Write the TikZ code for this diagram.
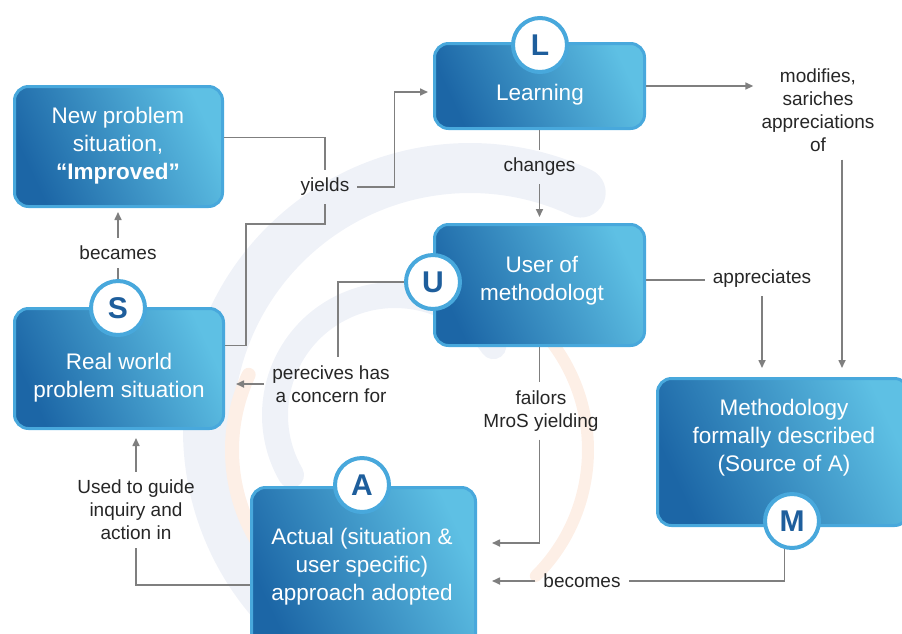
\documentclass[tikz,border=0pt]{standalone}
\usepackage{fontspec}
\setmainfont{Liberation Sans}
\usetikzlibrary{arrows.meta}
\definecolor{boxdark}{HTML}{1C66A6}
\definecolor{boxlight}{HTML}{5EC0E4}
\definecolor{boxrim}{HTML}{48A8DC}
\definecolor{badgeletter}{HTML}{1E5E9C}
\definecolor{linegray}{HTML}{7F7F7F}
\definecolor{labeltext}{HTML}{262626}
\definecolor{markblue}{HTML}{EFF2F8}
\definecolor{markorange}{HTML}{FDEFE6}

\begin{document}
\begin{tikzpicture}[x=1pt,y=-1pt,
  box/.style={draw=boxrim, line width=3pt, rounded corners=14pt,
    left color=boxdark, right color=boxlight, shading angle=115},
  boxtext/.style={text=white, align=center, font=\fontsize{22.5}{28}\selectfont},
  badge/.style={circle, draw=boxrim, line width=4pt, fill=white, minimum size=54pt,
    inner sep=0pt, text=badgeletter, font=\fontsize{30}{30}\selectfont\bfseries},
  lbl/.style={text=labeltext, align=center, inner xsep=8pt, inner ysep=8pt,
    font=\fontsize{19}{23}\selectfont},
  ln/.style={draw=linegray, line width=1.6pt},
  arr/.style={ln, -{Triangle[length=8pt,width=7pt]}}]
\useasboundingbox (0,0) rectangle (902,633);

% faint logo in the back
\draw[markblue, line width=50pt, line cap=round] (470,430) ++(140:262) arc[start angle=140, end angle=295, radius=262];
\draw[markblue, line width=26pt, line cap=round] (395,415) ++(150:120) arc[start angle=150, end angle=325, radius=120];
\draw[markorange, line width=14pt, line cap=round] (410,450) ++(100:178) arc[start angle=100, end angle=205, radius=178];
\draw[markorange, line width=12pt, line cap=round] (410,450) ++(-40:178) arc[start angle=-40, end angle=45, radius=178];

% boxes
\node[box, minimum width=208pt, minimum height=120pt] (nps) at (118.5,146.5) {};
\node[box, minimum width=210pt, minimum height=85pt] (lrn) at (539.5,86) {};
\node[box, minimum width=210pt, minimum height=121pt] (usr) at (539.5,285) {};
\node[box, minimum width=209pt, minimum height=120pt] (rwp) at (119,368.5) {};
\node[box, minimum width=251pt, minimum height=147pt] (mth) at (783,452) {};
\node[box, minimum width=224pt, minimum height=161pt] (act) at (363.5,568) {};

\node[boxtext] (nps-t) at (118,146) {New problem\\situation,\\\textbf{“Improved”}};
\node[boxtext] (lrn-t) at (540,95) {Learning};
\node[boxtext] (usr-t) at (542,281) {User of\\methodologt};
\node[boxtext] (rwp-t) at (119,378) {Real world\\problem situation};
\node[boxtext] (mth-t) at (784,438) {Methodology\\formally described\\(Source of A)};
\node[boxtext] (act-t) at (362,567) {Actual (situation \&\\user specific)\\approach adopted};

% badges
\node[badge] (cL) at (540,45) {L};
\node[badge] (cU) at (433,282) {U};
\node[badge] (cS) at (118,308) {S};
\node[badge] (cA) at (362,485) {A};
\node[badge] (cM) at (792,521) {M};

% labels
\node[lbl] (yld) at (325,187) {yields};
\node[lbl] (bcm) at (118,253) {becames};
\node[lbl] (chg) at (539.5,167) {changes};
\node[lbl] (mod) at (818,110) {modifies,\\sariches\\appreciations\\of};
\node[lbl] (apr) at (762,279) {appreciates};
\node[lbl] (pcv) at (331,384) {perecives has\\a concern for};
\node[lbl] (fml) at (541,411) {failors\\MroS yielding};
\node[lbl] (bcs) at (582,581) {becomes};
\node[lbl] (usd) at (136,510) {Used to guide\\inquiry and\\action in};

% connectors
\draw[ln] ([yshift=9pt]nps.east) -| (yld.north);
\draw[arr, shorten >=5pt] (yld.east) -- ++(37,0) |- ([yshift=-6pt]lrn.west);
\draw[ln] ([yshift=23pt]rwp.east) -- ++(21,0) |- ([yshift=-20pt]yld.south) -- (yld.south);
\draw[ln] (cS.north) -- (bcm.south);
\draw[arr, shorten >=4pt] (bcm.north) -- (bcm.north |- nps.south);
\draw[ln] (lrn.south) -- (chg.north);
\draw[arr, shorten >=6pt] (chg.south) -- (usr.north);
\draw[arr] (lrn.east) -- (lrn.east -| mod.west);
\coordinate (modout) at ([xshift=24pt]mod.south);
\draw[arr, shorten >=9pt] (modout) -- (modout |- mth.north);
\coordinate (usrout) at ([yshift=5pt]usr.east);
\draw[ln] (usrout) -- (usrout -| apr.west);
\draw[arr, shorten >=9pt] (apr.south) -- (apr.south |- mth.north);
\draw[ln] (cU.west) -| ([xshift=7pt]pcv.north);
\draw[arr, shorten >=11pt] (pcv.west) -- (pcv.west -| rwp.east);
\draw[ln] (usr.south) -- (usr.south |- fml.north);
\draw[arr, shorten >=15pt] (fml.south -| usr.south) |- ([yshift=25pt]act.east);
\draw[ln] (cM.-105) |- (bcs.east);
\draw[arr, shorten >=15pt] (bcs.west) -- (bcs.west -| act.east);
\draw[ln] ([yshift=-17pt]act.west) -| (usd.south);
\draw[arr, shorten >=8pt] (usd.north) -- (usd.north |- rwp.south);
\end{tikzpicture}
\end{document}
